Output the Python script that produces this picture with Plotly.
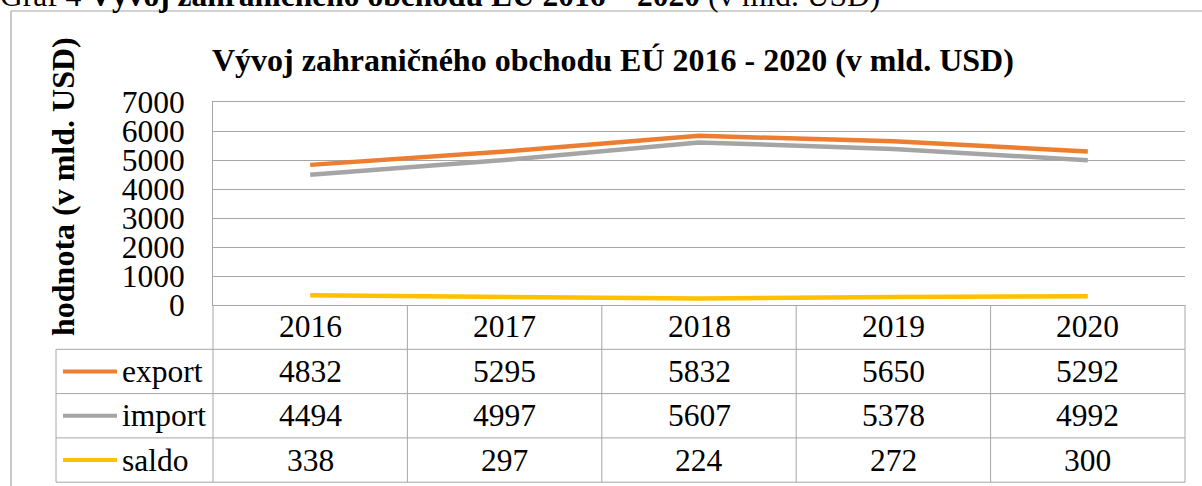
import plotly.graph_objects as go

years = ["2016", "2017", "2018", "2019", "2020"]
series_names = ["export", "import", "saldo"]
export_vals = [4832, 5295, 5832, 5650, 5292]
import_vals = [4494, 4997, 5607, 5378, 4992]
saldo_vals = [338, 297, 224, 272, 300]
colors = ["#ED7D31", "#A5A5A5", "#FFC000"]

title_text = "<b>Vývoj zahraničného obchodu EÚ 2016 - 2020 (v mld. USD)</b>"
caption_text = "Graf 4 <b>Vývoj zahraničného obchodu EÚ 2016 – 2020</b> (v mld. USD)"
ytitle_text = "<b>hodnota (v mld. USD)</b>"

W, H = 1202, 486
L, R, T, B = 213, 17, 102, 181
PW = W - L - R
PH = H - T - B
FONT = "Liberation Serif, Times New Roman, Times, serif"
FS = 31.5
GRID = "#A6A6A6"


def px_x(px):
    return (px - L) / PW


def px_y(py):
    return (H - B - py) / PH


values = [export_vals, import_vals, saldo_vals]
n = len(years)
xidx = list(range(n))

fig = go.Figure()
for name, vals, col in zip(series_names, values, colors):
    fig.add_trace(go.Scatter(x=xidx, y=vals, mode="lines", name=name,
                             line=dict(color=col, width=4.5), showlegend=False))

shapes = []
annotations = []

row_h = 44.3
table_top = H - B
header_bottom = table_top + row_h
legend_left = 56

for k in range(len(series_names) + 1):
    yy = header_bottom + k * row_h
    shapes.append(dict(type="line", xref="paper", yref="paper",
                       x0=px_x(legend_left), x1=1, y0=px_y(yy), y1=px_y(yy),
                       line=dict(color=GRID, width=1)))
table_bottom = header_bottom + len(series_names) * row_h
for i in range(n + 1):
    shapes.append(dict(type="line", xref="paper", yref="paper",
                       x0=i / n, x1=i / n, y0=0, y1=px_y(table_bottom),
                       line=dict(color=GRID, width=1)))
shapes.append(dict(type="line", xref="paper", yref="paper",
                   x0=px_x(legend_left), x1=px_x(legend_left),
                   y0=px_y(header_bottom), y1=px_y(table_bottom),
                   line=dict(color=GRID, width=1)))

for i, yr in enumerate(years):
    annotations.append(dict(x=i, xref="x", y=px_y(table_top + row_h / 2 - 1), yref="paper",
                            text=yr, showarrow=False, xanchor="center", yanchor="middle",
                            font=dict(family=FONT, size=FS, color="black")))

for k, (name, vals, col) in enumerate(zip(series_names, values, colors)):
    cy = header_bottom + k * row_h + row_h / 2
    shapes.append(dict(type="line", xref="paper", yref="paper",
                       x0=px_x(63), x1=px_x(117), y0=px_y(cy), y1=px_y(cy),
                       line=dict(color=col, width=4)))
    annotations.append(dict(x=px_x(120), xref="paper", y=px_y(cy), yref="paper",
                            text=name, showarrow=False, xanchor="left", yanchor="middle",
                            font=dict(family=FONT, size=FS, color="black")))
    for i, v in enumerate(vals):
        annotations.append(dict(x=i, xref="x", y=px_y(cy), yref="paper",
                                text=str(v), showarrow=False, xanchor="center", yanchor="middle",
                                font=dict(family=FONT, size=FS, color="black")))

annotations.append(dict(x=px_x(210), xref="paper", y=px_y(60), yref="paper",
                        text=title_text, showarrow=False, xanchor="left", yanchor="middle",
                        font=dict(family=FONT, size=32, color="black")))
annotations.append(dict(x=px_x(63), xref="paper", y=px_y(187), yref="paper",
                        text=ytitle_text, showarrow=False, textangle=-90,
                        xanchor="center", yanchor="middle",
                        font=dict(family=FONT, size=32, color="black")))
annotations.append(dict(x=px_x(-2), xref="paper", y=px_y(-5), yref="paper",
                        text=caption_text, showarrow=False, xanchor="left", yanchor="middle",
                        font=dict(family=FONT, size=FS, color="black")))

shapes.append(dict(type="line", xref="paper", yref="paper",
                   x0=px_x(11), x1=px_x(W + 5), y0=px_y(11), y1=px_y(11),
                   line=dict(color=GRID, width=1.2)))
shapes.append(dict(type="line", xref="paper", yref="paper",
                   x0=px_x(11), x1=px_x(11), y0=px_y(11), y1=px_y(H + 5),
                   line=dict(color=GRID, width=1.2)))

fig.update_layout(
    width=W, height=H,
    margin=dict(l=L, r=R, t=T, b=B, pad=0),
    paper_bgcolor="white", plot_bgcolor="white",
    font=dict(family=FONT, size=FS, color="black"),
    shapes=shapes, annotations=annotations,
    xaxis=dict(range=[-0.5, n - 0.5], showticklabels=False,
               showgrid=False, zeroline=False, showline=True, mirror=True,
               linecolor=GRID, linewidth=1, ticks=""),
    yaxis=dict(range=[0, 7000], dtick=1000, showgrid=True, gridcolor=GRID, gridwidth=1,
               zeroline=False, showline=True, linecolor=GRID, linewidth=1, ticks="",
               ticklabelstandoff=21, tickfont=dict(family=FONT, size=FS, color="black")),
)

fig.write_html("out.html", config={"displayModeBar": False},
               post_script="document.body.style.margin='0';document.body.style.overflow='hidden';")
